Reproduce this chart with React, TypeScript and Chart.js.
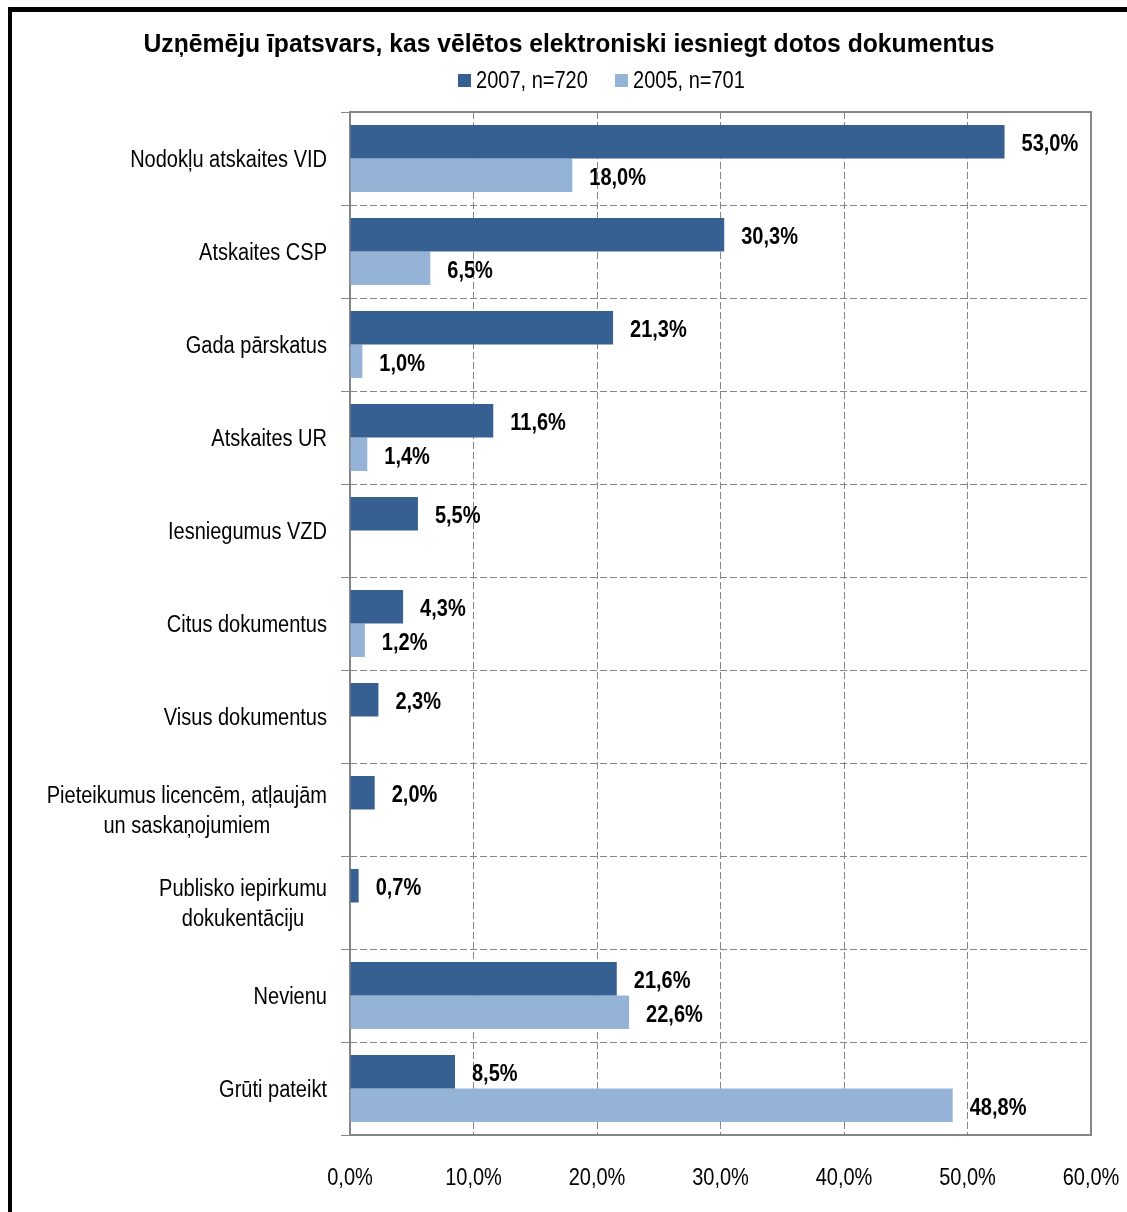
import React, { useEffect, useRef } from "react";
import { Chart, registerables } from "chart.js";

Chart.register(...registerables);

const TITLE = "Uzņēmēju īpatsvars, kas vēlētos elektroniski iesniegt dotos dokumentus";
const CATEGORIES: (string | string[])[] = [
  "Nodokļu atskaites VID",
  "Atskaites CSP",
  "Gada pārskatus",
  "Atskaites UR",
  "Iesniegumus VZD",
  "Citus dokumentus",
  "Visus dokumentus",
  ["Pieteikumus licencēm, atļaujām", "un saskaņojumiem"],
  ["Publisko iepirkumu", "dokukentāciju"],
  "Nevienu",
  "Grūti pateikt",
];
const SERIES_NAMES = ["2007, n=720", "2005, n=701"];
const VALUES_2007 = [53.0, 30.3, 21.3, 11.6, 5.5, 4.3, 2.3, 2.0, 0.7, 21.6, 8.5];
const VALUES_2005: (number | null)[] = [18.0, 6.5, 1.0, 1.4, null, 1.2, null, null, null, 22.6, 48.8];
const X_TICKS = [0, 10, 20, 30, 40, 50, 60];
const COLORS = ["#366092", "#95B3D7"];

const FONT = '"Liberation Sans Narrow", "Arial Narrow", "Liberation Sans", sans-serif';
const GRID = "#868686";
const NARROW = 0.87;

const fmt = (v: number) => v.toFixed(1).replace(".", ",") + "%";

function narrowText(ctx: CanvasRenderingContext2D, text: string, x: number, y: number, sx: number) {
  ctx.save();
  ctx.translate(x, y);
  ctx.scale(sx, 1);
  ctx.fillText(text, 0, 0);
  ctx.restore();
}

export default function App() {
  const ref = useRef<HTMLCanvasElement | null>(null);

  useEffect(() => {
    if (!ref.current) return;

    const decor = {
      id: "decor",
      beforeDatasetsDraw(chart: any) {
        const { ctx, chartArea } = chart;
        ctx.save();
        ctx.strokeStyle = GRID;
        ctx.lineWidth = 2;
        ctx.strokeRect(chartArea.left, chartArea.top, chartArea.right - chartArea.left, chartArea.bottom - chartArea.top);
        ctx.restore();
      },
      afterDraw(chart: any) {
        const { ctx, chartArea } = chart;
        const yScale = chart.scales.y;
        const xScale = chart.scales.x;
        ctx.save();
        ctx.fillStyle = "#000";
        ctx.textBaseline = "middle";
        // title
        ctx.font = `bold 26px ${FONT}`;
        ctx.textAlign = "center";
        narrowText(ctx, TITLE, 569, 45, 0.95);
        // legend
        ctx.font = `23px ${FONT}`;
        ctx.textAlign = "left";
        const legendX = [458, 615];
        SERIES_NAMES.forEach((name, i) => {
          ctx.fillStyle = COLORS[i];
          ctx.fillRect(legendX[i], 74, 13, 13);
          ctx.fillStyle = "#000";
          narrowText(ctx, name, legendX[i] + 18, 82, NARROW);
        });
        // category labels
        ctx.font = `23px ${FONT}`;
        ctx.textAlign = "center";
        const rightEdge = chartArea.left - 23;
        CATEGORIES.forEach((lab, i) => {
          const lines = Array.isArray(lab) ? lab : [lab];
          const y = yScale.getPixelForValue(i);
          const maxW = Math.max(...lines.map((l) => ctx.measureText(l).width)) * NARROW;
          const cx = rightEdge - maxW / 2;
          lines.forEach((l, j) => {
            narrowText(ctx, l, cx, y + 2 + (j - (lines.length - 1) / 2) * 30, NARROW);
          });
        });
        // x tick labels
        ctx.textAlign = "center";
        X_TICKS.forEach((v) => {
          narrowText(ctx, fmt(v), xScale.getPixelForValue(v), 1179, NARROW);
        });
        // data labels
        ctx.font = `bold 23px ${FONT}`;
        ctx.textAlign = "left";
        chart.data.datasets.forEach((ds: any, di: number) => {
          const meta = chart.getDatasetMeta(di);
          meta.data.forEach((el: any, i: number) => {
            const v = ds.data[i];
            if (v === null || v === undefined) return;
            narrowText(ctx, fmt(v), el.x + 17, el.y + 3, NARROW);
          });
        });
        ctx.restore();
      },
    };

    const chart = new Chart(ref.current, {
      type: "bar",
      data: {
        labels: CATEGORIES.map((c) => (Array.isArray(c) ? c.join(" ") : c)),
        datasets: [
          {
            label: SERIES_NAMES[0],
            data: VALUES_2007,
            backgroundColor: COLORS[0],
            categoryPercentage: 0.72,
            barPercentage: 1,
          },
          {
            label: SERIES_NAMES[1],
            data: VALUES_2005,
            backgroundColor: COLORS[1],
            categoryPercentage: 0.72,
            barPercentage: 1,
          },
        ],
      },
      options: {
        indexAxis: "y",
        animation: false,
        responsive: false,
        maintainAspectRatio: false,
        layout: { padding: { top: 112, right: 36, left: 0, bottom: 0 } },
        plugins: {
          legend: { display: false },
          title: { display: false },
          tooltip: { enabled: false },
        },
        scales: {
          x: {
            min: 0,
            max: 60,
            afterBuildTicks: (s: any) => {
              s.ticks = X_TICKS.map((v) => ({ value: v }));
            },
            afterFit: (s: any) => {
              s.height = 77;
              s.paddingLeft = 0;
              s.paddingRight = 0;
            },
            grid: {
              color: (c: any) => (c.tick && (c.tick.value === 0 || c.tick.value === 60) ? "rgba(0,0,0,0)" : GRID),
              lineWidth: 1,
              drawTicks: false,
            },
            border: { display: false, dash: [7, 3] },
            ticks: { display: false },
          },
          y: {
            type: "category",
            afterFit: (s: any) => {
              s.width = 350;
              s.paddingTop = 0;
              s.paddingBottom = 0;
            },
            grid: {
              offset: true,
              color: GRID,
              lineWidth: 1,
              drawTicks: true,
              tickLength: 9,
              tickBorderDash: [],
            },
            border: { display: false, dash: [7, 3] },
            ticks: { display: false },
          },
        },
      },
      plugins: [decor],
    });

    return () => chart.destroy();
  }, []);

  return (
    <div style={{ position: "fixed", left: 0, top: 0, width: 1127, height: 1212, background: "#fff", overflow: "hidden" }}>
      <div
        style={{
          position: "absolute",
          left: 8,
          top: 7,
          width: 1300,
          height: 1400,
          borderLeft: "4px solid #000",
          borderTop: "5px solid #000",
        }}
      />
      <canvas ref={ref} width={1127} height={1212} style={{ position: "absolute", left: 0, top: 0, width: 1127, height: 1212 }} />
    </div>
  );
}
